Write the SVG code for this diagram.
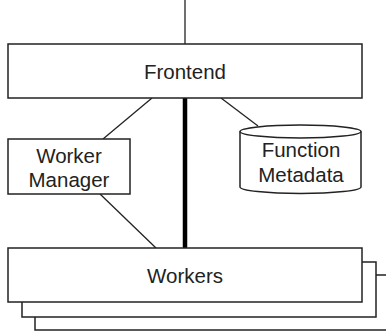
<svg xmlns="http://www.w3.org/2000/svg" width="386" height="333" viewBox="0 0 386 333">
<style>
.box{fill:#fff;stroke:#222;stroke-width:1.5}
.ln{stroke:#222;stroke-width:1.3;fill:none}
.thick{stroke:#000;stroke-width:4.5;stroke-linecap:round;fill:none}
text{font-family:"Liberation Sans",Arial,sans-serif;font-size:20.5px;fill:#222;text-anchor:middle}
</style>
<rect width="386" height="333" fill="#fff"/>
<g id="connectors">
<line class="ln" x1="185" y1="0" x2="185" y2="44"/>
<line class="ln" x1="152" y1="98" x2="103" y2="139"/>
<line class="ln" x1="221" y1="98" x2="258" y2="126"/>
<line class="ln" x1="100" y1="194" x2="156" y2="248"/>
<line class="thick" x1="185" y1="98" x2="185" y2="247"/>
</g>
<g id="frontend">
<rect class="box" x="8" y="44" width="354" height="54"/>
<text x="185" y="78.5">Frontend</text>
</g>
<g id="worker-manager">
<rect class="box" x="8" y="139" width="122" height="55"/>
<text x="69" y="163">Worker</text>
<text x="69" y="186.5">Manager</text>
</g>
<g id="function-metadata">
<path class="box" d="M240,131.5 L240,187 A60.5,6.5 0 0 0 361,187 L361,131.5 A60.5,6.5 0 0 0 240,131.5 Z"/>
<path class="ln" d="M240,131.5 A60.5,6.5 0 0 0 361,131.5" style="stroke-width:1.5"/>
<text x="301" y="156.5">Function</text>
<text x="301" y="181.5">Metadata</text>
</g>
<g id="workers">
<rect class="box" x="35" y="275" width="360" height="55"/>
<rect class="box" x="22" y="262" width="354" height="55"/>
<rect class="box" x="8" y="248" width="354" height="54"/>
<text x="185" y="282.5">Workers</text>
</g>
</svg>
